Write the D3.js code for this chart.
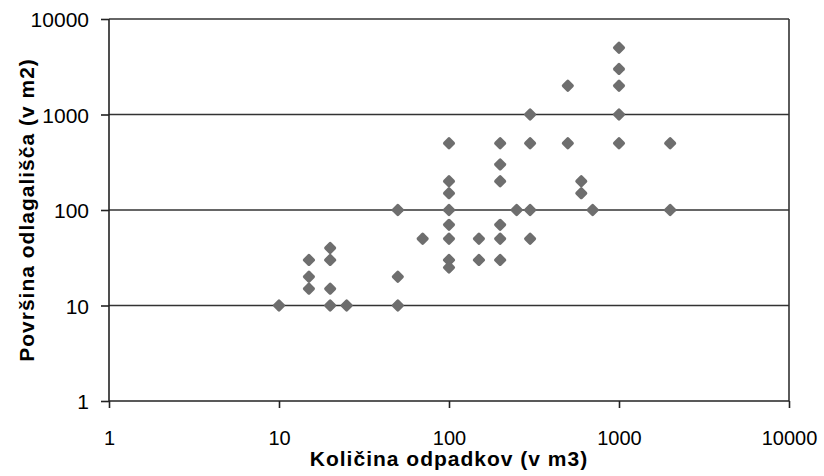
<!DOCTYPE html>
<html lang="sl">

<head>
    <meta charset="UTF-8">
    <script src="https://d3js.org/d3.v7.min.js"></script>
    <title>Scatter</title>
    <style>
        body {
            margin: 0;
            background: #fff;
        }

        text {
            font-family: "Liberation Sans", Arial, sans-serif;
            fill: #000;
        }
    </style>
</head>

<body>
    <script>
        // kolicina odpadkov (m3)
        var kolicina = [10, 15, 15, 15, 20, 20, 20, 20, 25,
            50, 50, 50, 70,
            100, 100, 100, 100, 100, 100, 100, 100,
            150, 150,
            200, 200, 200, 200, 200, 200,
            250,
            300, 300, 300, 300,
            500, 500,
            600, 600, 700,
            1000, 1000, 1000, 1000, 1000,
            2000, 2000]
        // povrsina odlagalisca (m2)
        var povrsina = [10, 30, 20, 15, 40, 30, 15, 10, 10,
            100, 20, 10, 50,
            500, 200, 150, 100, 70, 50, 30, 25,
            50, 30,
            500, 300, 200, 70, 50, 30,
            100,
            1000, 500, 100, 50,
            2000, 500,
            200, 150, 100,
            5000, 3000, 2000, 1000, 500,
            500, 100]
        var tickValues = [1, 10, 100, 1000, 10000]

        var width = 824, height = 476
        var margin = { top: 19, right: 35, bottom: 75, left: 109 }

        var svg = d3.select("body")
            .append("svg")
            .attr("width", width)
            .attr("height", height)

        var x = d3.scaleLog()
            .domain([1, 10000])
            .range([margin.left, width - margin.right])
        var y = d3.scaleLog()
            .domain([1, 10000])
            .range([height - margin.bottom, margin.top])

        // horizontal grid lines
        svg.append("g")
            .selectAll("line")
            .data(tickValues.slice(1))
            .join("line")
            .attr("x1", x(1))
            .attr("x2", x(10000))
            .attr("y1", function (d) { return y(d) })
            .attr("y2", function (d) { return y(d) })
            .attr("stroke", "#333")
            .attr("stroke-width", 1.6)

        // right border
        svg.append("line")
            .attr("x1", x(10000)).attr("x2", x(10000))
            .attr("y1", y(10000)).attr("y2", y(1))
            .attr("stroke", "#333")
            .attr("stroke-width", 1.6)

        var xAxis = svg.append("g")
            .attr("transform", "translate(0," + y(1) + ")")
            .call(d3.axisBottom(x).tickValues(tickValues).tickFormat(d3.format("d")).tickSize(7).tickPadding(23))
        var yAxis = svg.append("g")
            .attr("transform", "translate(" + x(1) + ",0)")
            .call(d3.axisLeft(y).tickValues(tickValues).tickFormat(d3.format("d")).tickSize(8).tickPadding(12))

        xAxis.select(".domain").remove()
        yAxis.select(".domain").remove()
        svg.selectAll(".tick line").attr("stroke", "#222").attr("stroke-width", 1.6)
        xAxis.selectAll(".tick text")
            .style("font-family", "Liberation Sans, Arial, sans-serif")
            .style("font-size", "20px")
            .attr("fill", "#000")
        yAxis.selectAll(".tick text")
            .style("font-family", "Liberation Sans, Arial, sans-serif")
            .style("font-size", "21px")
            .attr("fill", "#000")
            .attr("dy", "0.38em")

        // axis lines
        svg.append("line")
            .attr("x1", x(1)).attr("x2", x(10000))
            .attr("y1", y(1)).attr("y2", y(1))
            .attr("stroke", "#222").attr("stroke-width", 1.6)
        svg.append("line")
            .attr("x1", x(1)).attr("x2", x(1))
            .attr("y1", y(10000)).attr("y2", y(1))
            .attr("stroke", "#222").attr("stroke-width", 1.6)

        // points
        svg.append("g")
            .selectAll("rect")
            .data(d3.range(kolicina.length))
            .join("rect")
            .attr("x", -4.8)
            .attr("y", -4.8)
            .attr("width", 9.6)
            .attr("height", 9.6)
            .attr("rx", 1.8)
            .attr("fill", "#6e6e6e")
            .attr("transform", function (i) {
                return "translate(" + x(kolicina[i]) + "," + y(povrsina[i]) + ") rotate(45)"
            })

        // axis titles
        svg.append("text")
            .attr("x", (x(1) + x(10000)) / 2)
            .attr("y", 466)
            .attr("text-anchor", "middle")
            .style("font-size", "21px")
            .style("font-weight", "bold")
            .style("letter-spacing", "1px")
            .text("Količina odpadkov (v m3)")

        svg.append("text")
            .attr("transform", "translate(34," + (y(1) + y(10000)) / 2 + ") rotate(-90)")
            .attr("text-anchor", "middle")
            .style("font-size", "21px")
            .style("font-weight", "bold")
            .style("letter-spacing", "1px")
            .text("Površina odlagališča (v m2)")
    </script>
</body>

</html>
